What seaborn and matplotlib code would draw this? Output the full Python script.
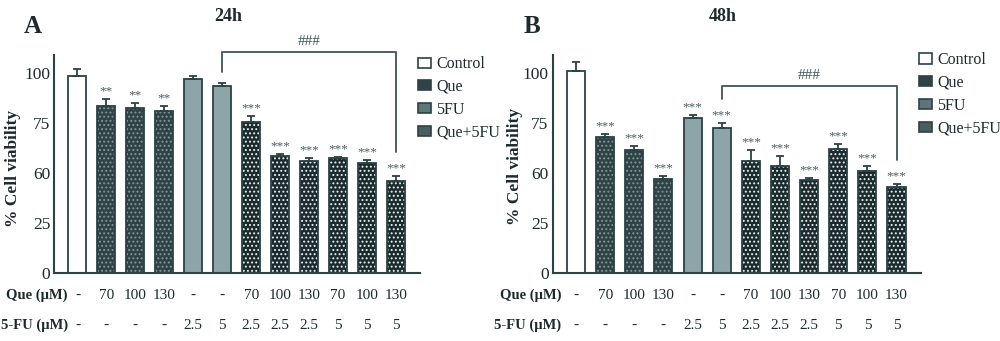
import numpy as np
import pandas as pd
import matplotlib
matplotlib.use("Agg")
import matplotlib.pyplot as plt
import matplotlib.patches as mpatches
from matplotlib.transforms import blended_transform_factory
import seaborn as sns

# ---------------- data ----------------
conditions = ["Control", "Que70", "Que100", "Que130", "5FU2.5", "5FU5",
              "Q70+F2.5", "Q100+F2.5", "Q130+F2.5", "Q70+F5", "Q100+F5", "Q130+F5"]
groups = ["Control", "Que", "Que", "Que", "5FU", "5FU",
          "Que+5FU", "Que+5FU", "Que+5FU", "Que+5FU", "Que+5FU", "Que+5FU"]
que_labels = ["-", "70", "100", "130", "-", "-", "70", "100", "130", "70", "100", "130"]
fu_labels = ["-", "-", "-", "-", "2.5", "5", "2.5", "2.5", "2.5", "5", "5", "5"]

viab_24h = [98.3, 83.4, 82.6, 80.9, 96.7, 93.4, 75.4, 58.3, 56.0, 57.3, 55.0, 46.2]
err_24h = [3.5, 3.6, 2.4, 2.5, 1.6, 1.6, 3.0, 1.0, 1.3, 0.7, 1.5, 2.5]
sig_24h = ["", "**", "**", "**", "", "", "***", "***", "***", "***", "***", "***"]

viab_48h = [100.8, 67.8, 61.5, 47.0, 77.3, 72.6, 56.0, 53.6, 46.4, 62.1, 51.2, 43.2]
err_48h = [4.4, 1.6, 2.0, 1.7, 1.5, 2.2, 5.5, 4.9, 1.3, 2.4, 2.3, 1.3]
sig_48h = ["", "***", "***", "***", "***", "***", "***", "***", "***", "***", "***", "***"]

ytick_values = [0, 25, 50, 75, 100]
ytick_labels = ["0", "25", "60", "75", "100"]
group_order = ["Control", "Que", "5FU", "Que+5FU"]

# ---------------- style ----------------
sns.set_style("white")
plt.rcParams["font.family"] = ["Liberation Serif", "DejaVu Serif"]
plt.rcParams["hatch.linewidth"] = 0.9

EDGE = "#2c4245"
TXT = "#1e2a2c"
styles = {
    "Control": dict(face="#ffffff", hatch=None, hcol=None),
    "Que": dict(face="#2f4346", hatch="....", hcol="#7f9799"),
    "5FU": dict(face="#8da5a8", hatch=None, hcol=None),
    "Que+5FU": dict(face="#1a2a2d", hatch="....", hcol="#e6eeee"),
}

fig = plt.figure(figsize=(10, 3.41), dpi=100)


def panel(rect, values, errs, sigs, title, letter, title_xy, letter_xy,
          bracket_top, leg_xy, ylab_coords, row_label_x):
    ax = fig.add_axes(rect)
    df = pd.DataFrame({"cond": conditions, "viab": values, "group": groups})
    sns.barplot(data=df, x="cond", y="viab", hue="group", hue_order=group_order,
                dodge=False, width=0.62, legend=False, ax=ax, errorbar=None)
    for container, g in zip(ax.containers, group_order):
        st = styles[g]
        for bar in container:
            bar.set_facecolor(st["face"])
            if st["hatch"]:
                bar.set_hatch(st["hatch"])
                bar.set_edgecolor(st["hcol"])
                bar.set_linewidth(0)
                ax.add_patch(mpatches.Rectangle((bar.get_x(), bar.get_y()),
                                                bar.get_width(), bar.get_height(),
                                                fill=False, edgecolor=EDGE,
                                                linewidth=1.3, zorder=3))
            else:
                bar.set_edgecolor(EDGE)
                bar.set_linewidth(1.3)
    x = np.arange(len(conditions))
    v = np.array(values)
    e = np.array(errs)
    ax.errorbar(x, v, yerr=[np.zeros_like(e), e], fmt="none", ecolor=EDGE,
                elinewidth=1.3, capsize=2.6, capthick=1.3, zorder=4)
    for xi, top, s in zip(x, v + e, sigs):
        if s:
            ax.text(xi, top + 0.8, s, ha="center", va="bottom", fontsize=9.5,
                    color="#4d5d60")

    ax.set_xlim(-0.8, 11.83)
    ax.set_ylim(0, 109)
    ax.set_yticks(ytick_values)
    ax.set_yticklabels(ytick_labels, fontsize=12.5, color=TXT)
    ax.set_xticks([])
    ax.tick_params(axis="y", length=0, pad=3)
    ax.set_xlabel("")
    ax.set_ylabel("% Cell viability", fontsize=12.5, fontweight="bold", color=TXT)
    ax.yaxis.set_label_coords(*ylab_coords)
    for sp in ["top", "right"]:
        ax.spines[sp].set_visible(False)
    for sp in ["left", "bottom"]:
        ax.spines[sp].set_color(EDGE)
        ax.spines[sp].set_linewidth(1.5)

    # bracket from 5FU 5 to Que130+5FU5
    tops = v + e
    left_bottom = tops[5] + (12 if sigs[5] else 5.5)
    right_bottom = tops[11] + 12
    ax.plot([5, 5, 11, 11], [left_bottom, bracket_top, bracket_top, right_bottom],
            color="#3d5559", linewidth=1.3, clip_on=False)
    ax.text(8, bracket_top + 2.0, "###", ha="center", va="bottom", fontsize=11,
            color="#3d5559", clip_on=False)

    # rows of treatment labels
    tr = blended_transform_factory(ax.transData, ax.transAxes)
    for xi, q, f in zip(x, que_labels, fu_labels):
        ax.text(xi, -0.1, q, transform=tr, ha="center", va="center", fontsize=11,
                color=TXT)
        ax.text(xi, -0.237, f, transform=tr, ha="center", va="center", fontsize=11,
                color=TXT)
    fig.text(row_label_x, (341 - 295) / 341, "Que (\u03bcM)", ha="right", va="center",
             fontsize=10.5, fontweight="bold", color=TXT)
    fig.text(row_label_x, (341 - 325) / 341, "5-FU (\u03bcM)", ha="right", va="center",
             fontsize=10.5, fontweight="bold", color=TXT)

    fig.text(*title_xy, title, ha="center", va="center", fontsize=13,
             fontweight="bold", color=TXT)
    fig.text(*letter_xy, letter, ha="center", va="center", fontsize=18,
             fontweight="bold", color=TXT)

    handles = []
    for g in group_order:
        st = styles[g]
        handles.append(mpatches.Patch(facecolor=st["face"], edgecolor=EDGE,
                                      linewidth=1.2, label=g))
    handles[2].set_facecolor("#5f7679")
    handles[3].set_facecolor("#4a5e61")
    leg = fig.legend(handles=handles, loc="upper left", bbox_to_anchor=leg_xy,
                     bbox_transform=fig.transFigure, frameon=False, fontsize=11.5,
                     handlelength=0.8, handleheight=0.6, handletextpad=0.35,
                     labelspacing=0.42, borderpad=0, borderaxespad=0)
    for t in leg.get_texts():
        t.set_color(TXT)
    return ax


panel([0.0543, 0.1985, 0.3657, 0.641], viab_24h, err_24h, sig_24h, "24h", "A",
      (0.228, 0.953), (0.033, 0.921), 110.3, (0.418, 0.835), (-0.091, 0.48), 0.068)
panel([0.5527, 0.1985, 0.368, 0.641], viab_48h, err_48h, sig_48h, "48h", "B",
      (0.723, 0.953), (0.532, 0.921), 93.4, (0.919, 0.847), (-0.081, 0.49), 0.561)

fig.savefig("out.png", dpi=100)
